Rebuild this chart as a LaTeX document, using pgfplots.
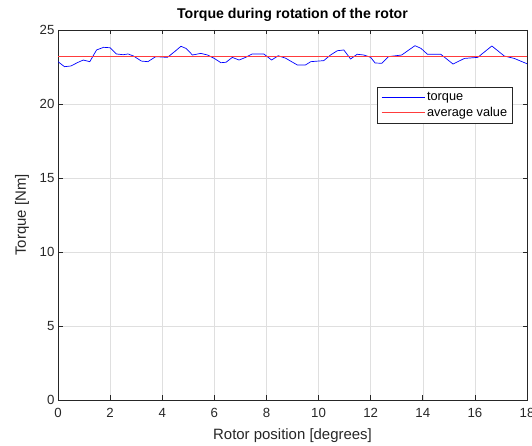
\documentclass[border=0pt]{standalone}
\usepackage{fontspec}
\setmainfont{Liberation Sans}
\usepackage{pgfplots}
\pgfplotsset{compat=1.18}
\definecolor{axgray}{RGB}{38,38,38}
\definecolor{gridgray}{RGB}{223,223,223}
\definecolor{avgred}{RGB}{255,60,60}
\begin{document}
\begin{tikzpicture}
\begin{axis}[
  scale only axis,
  width=469bp, height=370bp,
  xmin=0, xmax=18, ymin=0, ymax=25,
  xtick={0,2,...,18}, ytick={0,5,...,25},
  /pgf/number format/assume math mode=true,
  tick label style={font=\fontsize{13.3}{15}\selectfont, text=axgray},
  xticklabel style={yshift=-5bp},
  tick align=inside, tick pos=both,
  major tick length=4.5bp,
  axis line style={axgray, line width=0.6pt},
  every tick/.style={axgray, line width=0.6pt},
  grid=major,
  major grid style={gridgray, line width=0.5pt},
  title={\bfseries Torque during rotation of the rotor},
  title style={font=\fontsize{14.2}{16}\selectfont, yshift=-1bp},
  xlabel={Rotor position [degrees]},
  ylabel={Torque [Nm]},
  label style={font=\fontsize{15}{17}\selectfont, text=axgray},
  xlabel style={yshift=-4bp},
  ylabel style={yshift=4bp},
  legend style={at={(0.97,0.846)}, anchor=north east, font=\fontsize{12.8}{14}\selectfont,
    draw=axgray, line width=0.5pt, inner xsep=3.5bp, inner ysep=3.5bp, row sep=1bp, legend cell align=left},
]
\addplot[blue, line width=0.7pt, legend image code/.code={\draw[blue, line width=0.8pt] (0bp,0bp) -- (43bp,0bp);}] coordinates {
(0,22.86) (0.25,22.52) (0.5,22.57) (0.75,22.8) (0.97,22.97) (1.22,22.86)
(1.48,23.65) (1.75,23.83) (2.0,23.8) (2.24,23.38) (2.5,23.33) (2.69,23.38)
(2.9,23.24) (3.2,22.9) (3.45,22.86) (3.75,23.2) (4.2,23.15) (4.47,23.53)
(4.72,23.9) (4.92,23.75) (5.16,23.31) (5.48,23.42) (5.74,23.31) (6.0,23.08)
(6.25,22.79) (6.45,22.82) (6.69,23.15) (6.95,22.97) (7.2,23.15) (7.45,23.38)
(7.9,23.38) (8.2,22.97) (8.45,23.26) (8.73,23.1) (9.18,22.64) (9.5,22.64)
(9.7,22.86) (10.2,22.93) (10.46,23.31) (10.72,23.6) (10.97,23.65) (11.23,23.04)
(11.48,23.36) (11.74,23.31) (12.0,23.15) (12.17,22.77) (12.43,22.75) (12.68,23.2)
(13.19,23.31) (13.7,23.94) (13.93,23.76) (14.18,23.36) (14.69,23.36) (15.16,22.7)
(15.6,23.08) (16.11,23.15) (16.65,23.92) (17.13,23.24) (17.51,23.08) (18.0,22.72)
};
\addlegendentry{torque}
\addplot[avgred, line width=1pt, legend image code/.code={\draw[avgred, line width=1pt] (0bp,0bp) -- (43bp,0bp);}] coordinates {(0,23.2) (18,23.2)};
\addlegendentry{average value}
\coordinate (sw) at (rel axis cs:0,0);
\coordinate (ne) at (rel axis cs:1,1);
\end{axis}
\pgfresetboundingbox
\path[use as bounding box] ([shift={(-58bp,-46bp)}]sw) rectangle ([shift={(5bp,30bp)}]ne);
\end{tikzpicture}
\end{document}
